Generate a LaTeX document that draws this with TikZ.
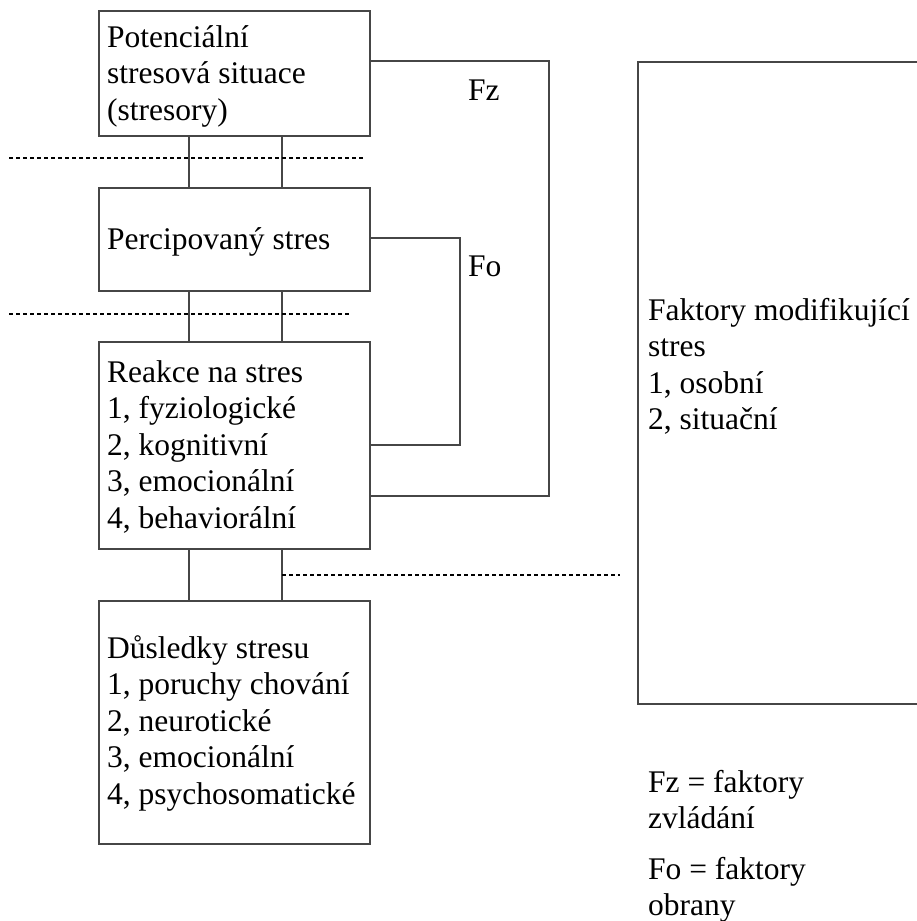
\documentclass[tikz,border=0pt]{standalone}
\usepackage{fontspec}
\setmainfont{Liberation Serif}
\newcommand{\mlines}[1]{\begin{tabular}[t]{@{}l@{}}#1\end{tabular}}
\begin{document}
\begin{tikzpicture}[x=1pt,y=-1pt,
  box/.style={draw=linegray, line width=1.5pt, rectangle, inner sep=0pt, anchor=north west},
  conn/.style={draw=linegray, line width=1.5pt},
  sep/.style={draw=black, line width=2pt, dash pattern=on 4pt off 3pt},
  txt/.style={anchor=base west, inner sep=0pt, font=\fontsize{31.5}{36.6}\selectfont}]
\definecolor{linegray}{RGB}{70,70,70}
\useasboundingbox (0,0) rectangle (917,921);
\clip (0,0) rectangle (917,921);
\fill[white] (0,0) rectangle (917,921);

% boxes
\node[box, minimum width=271pt, minimum height=125pt] (b1) at (98,10) {};
\node[box, minimum width=271pt, minimum height=103pt] (b2) at (98,187) {};
\node[box, minimum width=271pt, minimum height=207pt] (b3) at (98,341) {};
\node[box, minimum width=271pt, minimum height=243pt] (b4) at (98,600) {};
\node[box, minimum width=320pt, minimum height=642pt] (fm) at (637,61) {};

% texts
\node[txt] (t1) at (107,47) {\mlines{Potenciální\\stresová situace\\(stresory)}};
\node[txt] (t2) at (107,249) {Percipovaný stres};
\node[txt] (t3) at (107,382) {\mlines{Reakce na stres\\1, fyziologické\\2, kognitivní\\3, emocionální\\4, behaviorální}};
\node[txt] (t4) at (107,658) {\mlines{Důsledky stresu\\1, poruchy chování\\2, neurotické\\3, emocionální\\4, psychosomatické}};
\node[txt] (t5) at (648,320) {\mlines{Faktory modifikující\\stres\\1, osobní\\2, situační}};
\node[txt] (fz) at (468,100) {Fz};
\node[txt] (fo) at (468,276) {Fo};
\node[txt] (l1) at (648,792) {\mlines{Fz = faktory\\zvládání}};
\node[txt] (l2) at (648,879) {\mlines{Fo = faktory\\obrany}};

% vertical connectors
\foreach \a/\b in {b1/b2,b2/b3,b3/b4}{
  \draw[conn] ([xshift=91pt]\a.south west) -- ([xshift=91pt]\b.north west);
  \draw[conn] ([xshift=184pt]\a.south west) -- ([xshift=184pt]\b.north west);
}

% feedback loops
\coordinate (fzA) at (549,61);
\coordinate (fzB) at (549,496);
\draw[conn] (b1.east |- fzA) -- (fzA) -- (fzB) -- (b3.east |- fzB);
\coordinate (foA) at (460,238);
\coordinate (foB) at (460,445);
\draw[conn] (b2.east |- foA) -- (foA) -- (foB) -- (b3.east |- foB);

% dotted separators
\coordinate (d1a) at (9,158);
\coordinate (d1b) at (363,158);
\coordinate (d2a) at (9,314);
\coordinate (d2b) at (351,314);
\coordinate (d3b) at (620,575);
\draw[sep] (d1a) -- (d1b);
\draw[sep] (d2a) -- (d2b);
\draw[sep] ([xshift=184pt]b3.south west |- d3b) -- (d3b);
\end{tikzpicture}
\end{document}
